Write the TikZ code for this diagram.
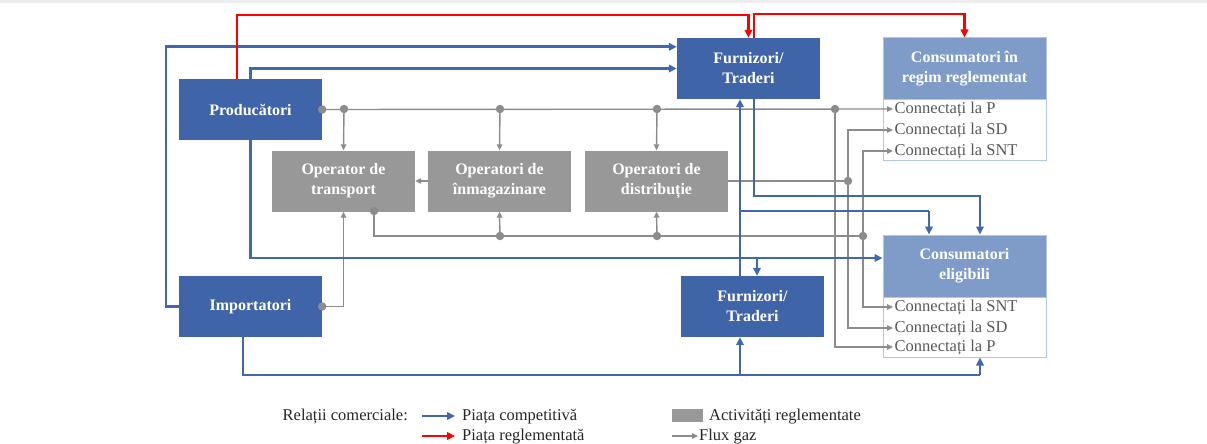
\documentclass[tikz,border=0pt]{standalone}
\usepackage{fontspec}
\setmainfont{Liberation Serif}
\usetikzlibrary{arrows.meta}
\definecolor{boxblue}{HTML}{3F64A8}
\definecolor{hdrblue}{HTML}{7F9BC8}
\definecolor{frameblue}{HTML}{B4C6E7}
\definecolor{lineblue}{HTML}{4068B0}
\definecolor{opgrey}{HTML}{989898}
\definecolor{gasgrey}{HTML}{8C8C8C}
\definecolor{rowgrey}{HTML}{595959}
\definecolor{regred}{HTML}{FF0000}
\tikzset{
  actor/.style={fill=boxblue, text=white, font=\bfseries\fontsize{16}{20}\selectfont,
    minimum width=143pt, minimum height=61pt, align=center, inner sep=0pt},
  oper/.style={actor, fill=opgrey},
  header/.style={actor, fill=hdrblue, draw=frameblue, line width=1pt, minimum width=163pt},
  list/.style={draw=frameblue, line width=1pt, fill=white, minimum width=163pt, minimum height=61pt, inner sep=0pt},
  row/.style={anchor=west, inner xsep=1.5pt, inner ysep=0pt, text height=11pt, text depth=3pt,
    text=rowgrey, font=\fontsize{16.5}{18}\selectfont},
  legend/.style={inner sep=0pt, text height=11pt, text depth=3pt, text=black!85, font=\fontsize{16.5}{18}\selectfont},
  gasline/.style={draw=gasgrey, line width=1.4pt},
  gas/.style={gasline, -{Triangle[length=6pt,width=5.5pt]}},
  compline/.style={draw=lineblue, line width=2.6pt},
  comp/.style={compline, -{Triangle[length=8pt,width=7.5pt]}},
  reg/.style={draw=regred, line width=2.6pt, -{Triangle[length=8pt,width=7.5pt]}},
  dot/.style={circle, fill=gasgrey, inner sep=0pt, minimum size=8.5pt},
}
\begin{document}
\begin{tikzpicture}[x=1pt,y=-1pt]
  \useasboundingbox (0,0) rectangle (1207,444);
  \fill[black!7] (0,0) rectangle (1207,3);

  % actors
  \node[actor] (prod) at (250.5,109.5) {Producători};
  \node[actor] (imp) at (250.5,306.5) {Importatori};
  \node[actor] (furnA) at (748.5,68.5) {Furnizori/\\Traderi};
  \node[actor] (furnB) at (752.5,306.5) {Furnizori/\\Traderi};

  % regulated operators
  \node[oper] (opT) at (343.5,181) {Operator de\\transport};
  \node[oper] (opI) at (499.5,181) {Operatori de\\înmagazinare};
  \node[oper] (opD) at (656.5,181) {Operatori de\\distribuție};

  % consumers
  \node[list] (consRegList) at (964.5,129.5) {};
  \node[header] (consReg) at (964.5,68.5) {Consumatori în\\regim reglementat};
  \node[list, minimum height=60pt] (consEligList) at (964.5,327) {};
  \node[header, minimum height=62pt] (consElig) at (964.5,266) {Consumatori\\eligibili};
  \node[row] (rP1) at (893,109) {Connectați la P};
  \node[row] (rSD1) at (893,130) {Connectați la SD};
  \node[row] (rSNT1) at (893,151) {Connectați la SNT};
  \node[row] (rSNT2) at (893,307) {Connectați la SNT};
  \node[row] (rSD2) at (893,328) {Connectați la SD};
  \node[row] (rP2) at (893,347) {Connectați la P};

  % junctions
  \coordinate (jT) at (344,109);
  \coordinate (jI) at (500,109);
  \coordinate (jD) at (657,109);
  \coordinate (jP) at (835,109);
  \coordinate (jSD) at (848,181);
  \coordinate (tB) at (374,211);
  \coordinate (jI2) at (500,236);
  \coordinate (jD2) at (657,236);
  \coordinate (jSNT) at (863,236);
  \coordinate (jB) at (757,258);
  \coordinate (jF) at (740,375);
  \coordinate (jE) at (980,375);
  \coordinate (kA) at (740,211);
  \coordinate (kB) at (929,211);
  \coordinate (jH) at (754,196);
  \coordinate (rA) at (748.5,15);
  \coordinate (rB) at (964.5,14);

  % gas flow
  \draw[gas] (prod.east) -- (rP1.west);
  \draw[gas] (jT) -- (opT.north);
  \draw[gas] (jI) -- (opI.north);
  \draw[gas] (jD) -- (opD.north);
  \draw[gas] (jP) |- (rP2.west);
  \draw[gas] (opI.west) -- (opT.east);
  \draw[gasline] (opD.east) -- (jSD);
  \draw[gas] (jSD) |- (rSD1.west);
  \draw[gas] (jSD) |- (rSD2.west);
  \draw[gasline] (tB) |- (jSNT);
  \draw[gas] (jI2) -- (opI.south);
  \draw[gas] (jD2) -- (opD.south);
  \draw[gas] (jSNT) |- (rSNT1.west);
  \draw[gas] (jSNT) |- (rSNT2.west);
  \draw[gas] (imp.east) -| (opT.south);
  \foreach \p in {prod.east,jT,jI,jD,jP,jSD,tB,jI2,jD2,jSNT,imp.east}
    \node[dot] at (\p) {};

  % competitive market
  \draw[comp] (imp.west) -- ++(-13,0) |- ([yshift=-9pt]furnA.north west);
  \draw[comp] (prod.north) |- (furnA.west);
  \draw[comp] (prod.south) |- ([yshift=8pt]consElig.west);
  \draw[comp] (jB) -- (jB |- furnB.north);
  \draw[compline] ([xshift=-7.5pt]imp.south) |- (jE);
  \draw[comp] (jE) -- (jE |- consEligList.south);
  \draw[comp] (jF) -- (jF |- furnB.south);
  \draw[comp] (jF |- furnB.north) -- (jF |- furnA.south);
  \draw[compline] (kA) -- (kB);
  \draw[comp] (kB) -- (kB |- consElig.north);
  \draw[comp] (jH |- furnA.south) -- (jH) -| (jE |- consElig.north);

  % regulated market
  \draw[reg] ([xshift=-13.5pt]prod.north) |- (rA) -- (furnA.north);
  \draw[reg] ([xshift=5.5pt]furnA.north) |- (rB) -- (consReg.north);

  % legend
  \node[legend, anchor=east] (lgRel) at (408,416) {Relații comerciale:};
  \node[legend, anchor=west] (lgComp) at (462,416) {Piața competitivă};
  \node[legend, anchor=west] (lgReg) at (462,436) {Piața reglementată};
  \node[legend, anchor=west] (lgAct) at (709,416) {Activități reglementate};
  \node[legend, anchor=west] (lgGas) at (699,436) {Flux gaz};
  \draw[comp] ([xshift=-40pt]lgComp.west) -- ([xshift=-7pt]lgComp.west);
  \draw[reg] ([xshift=-40pt]lgReg.west) -- ([xshift=-7pt]lgReg.west);
  \fill[opgrey] (672,409) rectangle (703,422);
  \draw[gas] ([xshift=-27pt]lgGas.west) -- ([xshift=-1pt]lgGas.west);
\end{tikzpicture}
\end{document}
